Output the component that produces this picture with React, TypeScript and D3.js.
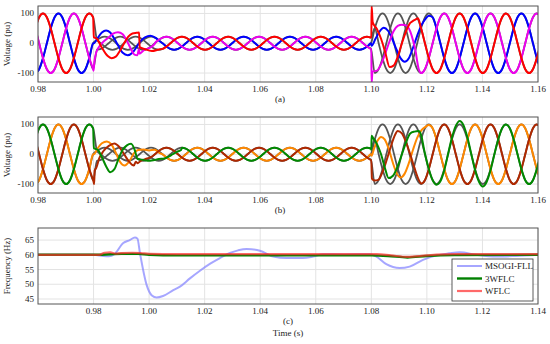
import { curveMonotoneX, line, scaleLinear } from 'd3';

type Point = [number, number];

const width = 550;
const height = 344;
const plotLeft = 38;
const plotRight = 538;
const serif = '"Liberation Serif", "DejaVu Serif", serif';

const voltageTicks = [-100, 0, 100];
const voltageTimeTicks = [0.98, 1.0, 1.02, 1.04, 1.06, 1.08, 1.1, 1.12, 1.14, 1.16];
const freqTicks = [45, 50, 55, 60, 65];
const freqTimeTicks = [0.98, 1.0, 1.02, 1.04, 1.06, 1.08, 1.1, 1.12, 1.14];

// reference three-phase voltages, one sample every 1/720 s from 0.97902 s
const sampleStart = 0.97902;
const sampleStep = 1 / 720;

const refPhaseA = [
  50, 87, 100, 87, 50, 0, -50, -87, -100, -87, -50, 0,
  50, 87, 100, 87, 11, 0, -11, -19, -22, -19, -11, 0,
  11, 19, 22, 19, 11, 0, -11, -19, -22, -19, -11, 0,
  11, 19, 22, 19, 11, 0, -11, -19, -22, -19, -11, 0,
  11, 19, 22, 19, 11, 0, -11, -19, -22, -19, -11, 0,
  11, 19, 22, 19, 11, 0, -11, -19, -22, -19, -11, 0,
  11, 19, 22, 19, 11, 0, -11, -19, -22, -19, -11, 0,
  11, 19, 22, 19, 50, 0, -50, -87, -100, -87, -50, 0,
  50, 87, 100, 87, 50, 0, -50, -87, -100, -87, -50, 0,
  50, 87, 100, 87, 50, 0, -50, -87, -100, -87, -50, 0,
  50, 87, 100, 87, 50, 0, -50, -87, -100, -87, -50, 0,
];

const refPhaseB = [
  -100, -87, -50, 0, 50, 87, 100, 87, 50, 0, -50, -87,
  -100, -87, -50, 0, 11, 19, 22, 19, 11, 0, -11, -19,
  -22, -19, -11, 0, 11, 19, 22, 19, 11, 0, -11, -19,
  -22, -19, -11, 0, 11, 19, 22, 19, 11, 0, -11, -19,
  -22, -19, -11, 0, 11, 19, 22, 19, 11, 0, -11, -19,
  -22, -19, -11, 0, 11, 19, 22, 19, 11, 0, -11, -19,
  -22, -19, -11, 0, 11, 19, 22, 19, 11, 0, -11, -19,
  -22, -19, -11, 0, 50, 87, 100, 87, 50, 0, -50, -87,
  -100, -87, -50, 0, 50, 87, 100, 87, 50, 0, -50, -87,
  -100, -87, -50, 0, 50, 87, 100, 87, 50, 0, -50, -87,
  -100, -87, -50, 0, 50, 87, 100, 87, 50, 0, -50, -87,
];

const refPhaseC = [
  50, 0, -50, -87, -100, -87, -50, 0, 50, 87, 100, 87,
  50, 0, -50, -87, -22, -19, -11, 0, 11, 19, 22, 19,
  11, 0, -11, -19, -22, -19, -11, 0, 11, 19, 22, 19,
  11, 0, -11, -19, -22, -19, -11, 0, 11, 19, 22, 19,
  11, 0, -11, -19, -22, -19, -11, 0, 11, 19, 22, 19,
  11, 0, -11, -19, -22, -19, -11, 0, 11, 19, 22, 19,
  11, 0, -11, -19, -22, -19, -11, 0, 11, 19, 22, 19,
  11, 0, -11, -19, -100, -87, -50, 0, 50, 87, 100, 87,
  50, 0, -50, -87, -100, -87, -50, 0, 50, 87, 100, 87,
  50, 0, -50, -87, -100, -87, -50, 0, 50, 87, 100, 87,
  50, 0, -50, -87, -100, -87, -50, 0, 50, 87, 100, 87,
];

// (a) estimator transients after the steps at 1.00 s and 1.10 s
const redStep1: Point[] = [
  [1.0001, 20], [1.0012, 15], [1.003, -15], [1.005, -42], [1.0065, -50], [1.008, -45],
  [1.0095, -25], [1.011, 0], [1.0125, 22], [1.014, 33], [1.0155, 35], [1.0164, 36],
  [1.0166, -13], [1.0185, -20], [1.021, -26], [1.0235, -21],
];
const redStep2: Point[] = [
  [1.1, 19], [1.1001, 125], [1.1005, 70], [1.102, 48], [1.1035, 15], [1.105, -30],
  [1.1066, -80], [1.108, -75], [1.1095, -45], [1.111, 0], [1.1125, 40], [1.114, 68],
  [1.115, 75], [1.116, 80], [1.1168, 84],
];
const blueStep1: Point[] = [
  [1.0001, 0], [1.0015, 18], [1.003, 36], [1.0045, 43], [1.006, 36], [1.0075, 15],
  [1.009, -10], [1.0105, -32], [1.0123, -40], [1.014, -32], [1.0155, -12], [1.017, 8],
  [1.0185, 20], [1.0205, 25], [1.0225, 17], [1.024, 5],
];
const blueStep2: Point[] = [
  [1.1001, -8], [1.1015, 15], [1.103, 40], [1.1045, 52], [1.106, 42], [1.1075, 15],
  [1.109, -20], [1.1105, -50], [1.112, -62], [1.1135, -50], [1.115, -15], [1.1165, 25],
  [1.118, 60], [1.1195, 82], [1.1207, 92],
];
const magentaStep1: Point[] = [
  [1.0, -92], [1.0003, -62], [1.001, -30], [1.002, -12], [1.0035, 5], [1.0055, 20],
  [1.007, 32], [1.0088, 37], [1.0105, 30], [1.012, 8], [1.0135, -20], [1.0147, -38],
  [1.0158, -40], [1.0163, -20], [1.0166, -35], [1.018, -24], [1.02, -16], [1.022, -2],
];
const magentaStep2: Point[] = [
  [1.1, -19], [1.1001, -135], [1.1004, -95], [1.102, -92], [1.1035, -70], [1.105, -35],
  [1.1065, 5], [1.108, 40], [1.1095, 58], [1.111, 62], [1.1125, 60], [1.114, 40],
  [1.115, 10], [1.116, -30], [1.1165, -60], [1.117, -85], [1.118, -100],
];

// (b) estimator transients
const greenStep1: Point[] = [
  [1.0001, 20], [1.0015, 15], [1.003, -10], [1.0045, -40], [1.006, -60], [1.0075, -50],
  [1.009, -15], [1.0105, 15], [1.012, 30], [1.0135, 35], [1.0148, 15], [1.0158, -15],
  [1.0175, -18], [1.0195, -22], [1.0215, -20], [1.0235, -16], [1.0255, -14], [1.027, -8],
  [1.0285, 0], [1.03, 8], [1.0315, 14],
];
const greenStep2: Point[] = [
  [1.1, 15], [1.1001, 62], [1.1006, 55], [1.102, 35], [1.1035, 0], [1.105, -50],
  [1.1062, -80], [1.1078, -72], [1.1095, -40], [1.111, 0], [1.1125, 40], [1.114, 70],
  [1.1155, 76], [1.117, 78], [1.118, 62], [1.119, 15], [1.1207, -50], [1.1221, -87],
  [1.1235, -102], [1.1249, -90], [1.1263, -52], [1.1276, 0], [1.129, 55], [1.1304, 95],
  [1.1318, 112], [1.1332, 97], [1.1346, 56], [1.136, 0], [1.1374, -55], [1.1388, -93],
  [1.1401, -108], [1.1415, -93], [1.1429, -54], [1.1443, 0],
];
const orangeStep1: Point[] = [
  [1.0001, 0], [1.0015, 20], [1.003, 37], [1.0048, 43], [1.0065, 32], [1.008, 5],
  [1.0095, -25], [1.0112, -38], [1.0128, -25], [1.0145, 3], [1.016, 14], [1.018, 16],
  [1.02, 13], [1.022, 15], [1.024, 3],
];
const orangeStep2: Point[] = [
  [1.1001, -5], [1.101, 20], [1.1022, 45], [1.1035, 58], [1.1048, 50], [1.1062, 20],
  [1.1078, -30], [1.1092, -65], [1.1105, -78], [1.112, -65], [1.1135, -30], [1.115, 15],
  [1.1165, 55], [1.118, 80], [1.1195, 92], [1.1207, 98],
];
const darkRedStep1: Point[] = [
  [1.0, -92], [1.0002, -100], [1.0004, -55], [1.001, -45], [1.002, -15], [1.0035, 10],
  [1.0055, 28], [1.0075, 36], [1.0092, 25], [1.011, 0], [1.0128, -25], [1.0145, -38],
  [1.0152, -25], [1.0158, -30], [1.017, -22], [1.019, -15], [1.021, -8],
];
const darkRedStep2: Point[] = [
  [1.1, -19], [1.1002, -82], [1.1012, -88], [1.1025, -86], [1.104, -60], [1.1055, -20],
  [1.107, 25], [1.1083, 60], [1.1095, 78], [1.111, 70], [1.1125, 40], [1.114, 0],
  [1.1155, -45], [1.1168, -80], [1.118, -98],
];

// (c) frequency estimates
const msogiTime = [
  0.96, 0.98, 0.9835, 0.9855, 0.9875, 0.9907, 0.993, 0.9949, 0.9958, 0.9967, 0.9991, 1.001,
  1.0027, 1.005, 1.0087, 1.0111, 1.0147, 1.0183, 1.022, 1.0255, 1.0291, 1.032, 1.0351, 1.0399,
  1.0447, 1.0495, 1.0554, 1.059, 1.0626, 1.07, 1.0794, 1.0818, 1.0854, 1.0902, 1.0938, 1.0986,
  1.1034, 1.108, 1.1118, 1.1178, 1.125, 1.132, 1.14,
];
const msogiFreq = [
  60, 60, 59.6, 59.5, 60.2, 64, 65, 65.9, 65.5, 60.6, 49.8, 46.2,
  45.5, 46, 48, 49.2, 52, 54.6, 57, 58.9, 60.6, 61.5, 62, 61.4,
  59.4, 58.9, 58.9, 59.4, 60.2, 60.1, 60.2, 59.4, 56.8, 55.5, 56, 58.3,
  59.8, 60.5, 60.9, 60, 59.4, 59.6, 60,
];
const wflc3Time = [0.96, 0.982, 0.986, 0.99, 0.996, 1.0, 1.01, 1.08, 1.086, 1.093, 1.1, 1.11, 1.14];
const wflc3Freq = [60, 60, 60.2, 60.3, 60.3, 60.0, 59.8, 59.8, 59.6, 59.1, 59.6, 59.9, 60];
const wflcTime = [0.96, 0.982, 0.984, 0.986, 0.988, 0.99, 0.994, 0.997, 1.0, 1.01, 1.082, 1.087, 1.093, 1.1, 1.11, 1.14];
const wflcFreq = [60, 60, 60.7, 60.8, 60.4, 60.6, 60.7, 60.6, 60.3, 60.2, 60.2, 59.8, 59.3, 59.8, 60.2, 60.2];

const legendItems = [
  { label: 'MSOGI-FLL', color: '#8080ff', opacity: 0.7, widthPx: 2 },
  { label: '3WFLC', color: '#008000', opacity: 1, widthPx: 2.4 },
  { label: 'WFLC', color: '#ff2a2a', opacity: 0.7, widthPx: 2.2 },
];

type Curve = { key: string; points: Point[]; color: string; widthPx: number };

function toPoints(values: number[]): Point[] {
  return values.map((value, index) => [sampleStart + index * sampleStep, value] as Point);
}

function zipPoints(times: number[], values: number[]): Point[] {
  return times.map((time, index) => [time, values[index]] as Point);
}

// estimate = reference where it has locked on, transient readings elsewhere
function estimate(ref: Point[], first: Point[], second: Point[]): Point[] {
  const a0 = first[0][0];
  const a1 = first[first.length - 1][0];
  const b0 = second[0][0];
  const b1 = second[second.length - 1][0];
  return [
    ...ref.filter(p => p[0] < a0),
    ...first,
    ...ref.filter(p => p[0] > a1 && p[0] < b0),
    ...second,
    ...ref.filter(p => p[0] > b1),
  ];
}

const refA = toPoints(refPhaseA);
const refB = toPoints(refPhaseB);
const refC = toPoints(refPhaseC);
const grey = '#555555';

const curvesA: Curve[] = [
  { key: 'ga', points: refA, color: grey, widthPx: 1.8 },
  { key: 'gb', points: refB, color: grey, widthPx: 1.8 },
  { key: 'gc', points: refC, color: grey, widthPx: 1.8 },
  { key: 'blue', points: estimate(refB, blueStep1, blueStep2), color: '#0000ff', widthPx: 2 },
  { key: 'magenta', points: estimate(refC, magentaStep1, magentaStep2), color: '#ee00ee', widthPx: 2 },
  { key: 'red', points: estimate(refA, redStep1, redStep2), color: '#ff0000', widthPx: 2 },
];

const curvesB: Curve[] = [
  { key: 'ga', points: refA, color: grey, widthPx: 1.8 },
  { key: 'gb', points: refB, color: grey, widthPx: 1.8 },
  { key: 'gc', points: refC, color: grey, widthPx: 1.8 },
  { key: 'orange', points: estimate(refB, orangeStep1, orangeStep2), color: '#ff8800', widthPx: 2 },
  { key: 'darkred', points: estimate(refC, darkRedStep1, darkRedStep2), color: '#b02800', widthPx: 2 },
  { key: 'green', points: estimate(refA, greenStep1, greenStep2), color: '#008a00', widthPx: 2 },
];

function WavePanel({ id, top, bottom, tag, tagX, curves }: { id: string; top: number; bottom: number; tag: string; tagX: number; curves: Curve[] }) {
  const x = scaleLinear().domain([0.98, 1.16]).range([plotLeft, plotRight]);
  const y = scaleLinear().domain([-130, 125]).range([bottom, top]);
  const path = line<Point>().x(p => x(p[0])).y(p => y(p[1])).curve(curveMonotoneX);
  const mid = (top + bottom) / 2;

  return (
    <g>
      <defs>
        <clipPath id={id}>
          <rect x={plotLeft} y={top} width={plotRight - plotLeft} height={bottom - top} />
        </clipPath>
      </defs>
      {voltageTimeTicks.map(t => (
        <line key={t} x1={x(t)} x2={x(t)} y1={top} y2={bottom} stroke="#e3e3e3" />
      ))}
      {voltageTicks.map(v => (
        <line key={v} x1={plotLeft} x2={plotRight} y1={y(v)} y2={y(v)} stroke="#e3e3e3" />
      ))}
      <g clipPath={`url(#${id})`}>
        {curves.map(c => (
          <path key={c.key} d={path(c.points) ?? ''} fill="none" stroke={c.color} strokeWidth={c.widthPx} strokeLinejoin="round" />
        ))}
      </g>
      <rect x={plotLeft} y={top} width={plotRight - plotLeft} height={bottom - top} fill="none" stroke="#555" strokeWidth={1} />
      {voltageTicks.map(v => (
        <text key={v} x={plotLeft - 4} y={y(v) + 3} textAnchor="end" fontSize={9} fontFamily={serif} fill="#222">{String(v)}</text>
      ))}
      {voltageTimeTicks.map(t => (
        <text key={t} x={x(t)} y={bottom + 10} textAnchor="middle" fontSize={9} fontFamily={serif} fill="#222">{t.toFixed(2)}</text>
      ))}
      <text transform={`translate(10, ${mid}) rotate(-90)`} textAnchor="middle" fontSize={9} fontFamily={serif} fill="#222">Voltage (pu)</text>
      <text x={tagX} y={bottom + 20} textAnchor="middle" fontSize={9} fontFamily={serif} fill="#222">{tag}</text>
    </g>
  );
}

function FrequencyPanel({ top, bottom }: { top: number; bottom: number }) {
  const x = scaleLinear().domain([0.96, 1.14]).range([plotLeft, plotRight]);
  const y = scaleLinear().domain([43.3, 69.1]).range([bottom, top]);
  const path = line<Point>().x(p => x(p[0])).y(p => y(p[1])).curve(curveMonotoneX);
  const series = [zipPoints(msogiTime, msogiFreq), zipPoints(wflc3Time, wflc3Freq), zipPoints(wflcTime, wflcFreq)];
  const legendX = 452;
  const legendY = 259;

  return (
    <g>
      <defs>
        <clipPath id="freq-clip">
          <rect x={plotLeft} y={top} width={plotRight - plotLeft} height={bottom - top} />
        </clipPath>
      </defs>
      {freqTimeTicks.map(t => (
        <line key={t} x1={x(t)} x2={x(t)} y1={top} y2={bottom} stroke="#e3e3e3" />
      ))}
      {freqTicks.map(v => (
        <line key={v} x1={plotLeft} x2={plotRight} y1={y(v)} y2={y(v)} stroke="#e3e3e3" />
      ))}
      <g clipPath="url(#freq-clip)">
        {series.map((points, i) => (
          <path key={legendItems[i].label} d={path(points) ?? ''} fill="none" stroke={legendItems[i].color} strokeOpacity={legendItems[i].opacity} strokeWidth={legendItems[i].widthPx} />
        ))}
      </g>
      <rect x={plotLeft} y={top} width={plotRight - plotLeft} height={bottom - top} fill="none" stroke="#555" strokeWidth={1} />
      {freqTicks.map(v => (
        <text key={v} x={plotLeft - 4} y={y(v) + 3} textAnchor="end" fontSize={9} fontFamily={serif} fill="#222">{v}</text>
      ))}
      {freqTimeTicks.map(t => (
        <text key={t} x={x(t)} y={bottom + 10} textAnchor="middle" fontSize={9} fontFamily={serif} fill="#222">{t.toFixed(2)}</text>
      ))}
      <text transform={`translate(10, ${(top + bottom) / 2}) rotate(-90)`} textAnchor="middle" fontSize={9} fontFamily={serif} fill="#222">Frequency (Hz)</text>
      <text x={288} y={bottom + 20} textAnchor="middle" fontSize={9} fontFamily={serif} fill="#222">(c)</text>
      <text x={288} y={bottom + 32} textAnchor="middle" fontSize={9} fontFamily={serif} fill="#222">Time (s)</text>

      <rect x={legendX} y={legendY} width={81} height={42} fill="#fff" stroke="#333" strokeWidth={0.8} />
      {legendItems.map((item, i) => (
        <g key={item.label}>
          <line x1={legendX + 5} x2={legendX + 30} y1={legendY + 7 + i * 12.5} y2={legendY + 7 + i * 12.5} stroke={item.color} strokeOpacity={item.opacity} strokeWidth={item.widthPx} />
          <text x={legendX + 33} y={legendY + 10 + i * 12.5} fontSize={9} fontFamily={serif} fill="#222">{item.label}</text>
        </g>
      ))}
    </g>
  );
}

export default function App() {
  return (
    <svg width={width} height={height} viewBox={`0 0 ${width} ${height}`} style={{ position: 'absolute', left: 0, top: 0, background: '#fff' }}>
      <rect width={width} height={height} fill="#fff" />
      <WavePanel id="clip-a" top={6} bottom={82} tag="(a)" tagX={280} curves={curvesA} />
      <WavePanel id="clip-b" top={117} bottom={193} tag="(b)" tagX={280} curves={curvesB} />
      <FrequencyPanel top={228} bottom={304} />
    </svg>
  );
}
